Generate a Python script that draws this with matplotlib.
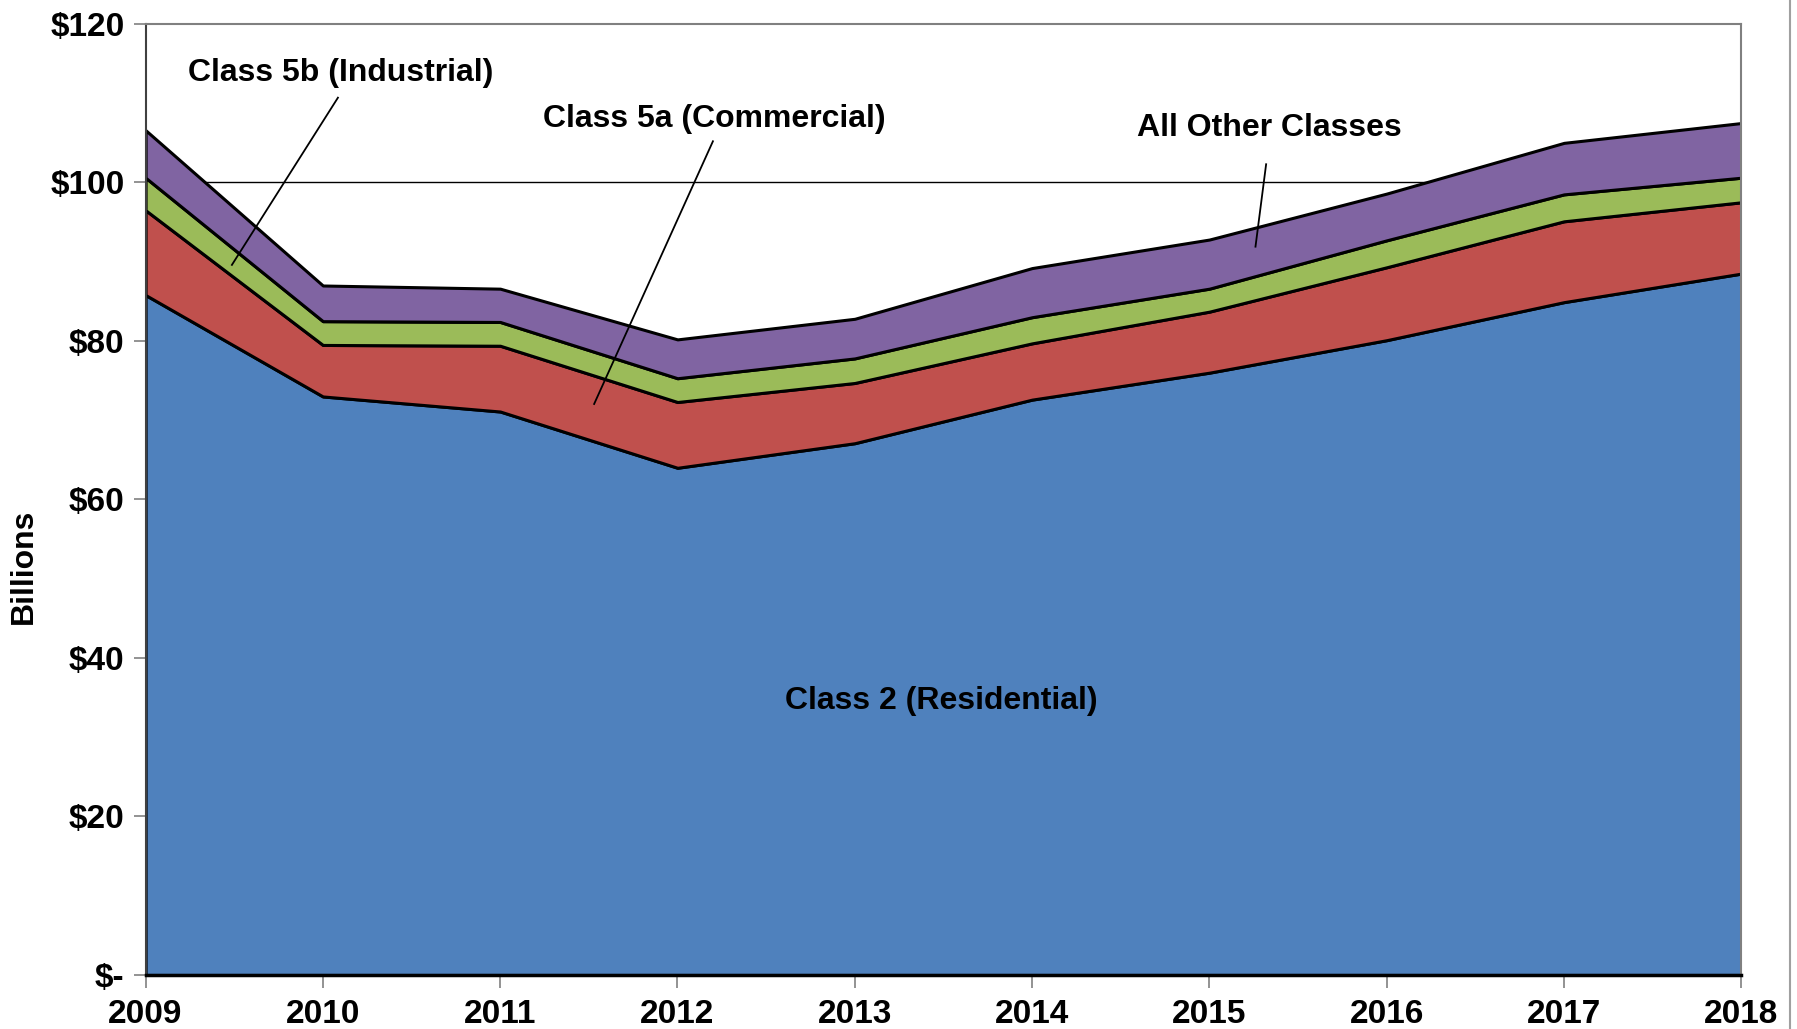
import matplotlib.pyplot as plt
import matplotlib.lines as mlines
import numpy as np

# years on the x axis
years = [2009, 2010, 2011, 2012, 2013, 2014, 2015, 2016, 2017, 2018]

# in billions of dollars (layer thickness)
residential = [85.8, 73.0, 71.1, 64.0, 67.1, 72.6, 76.0, 80.1, 84.9, 88.5]
commercial = [10.7, 6.5, 8.3, 8.3, 7.6, 7.1, 7.7, 9.2, 10.2, 9.0]
industrial = [4.1, 3.0, 3.0, 3.0, 3.1, 3.3, 2.9, 3.4, 3.4, 3.1]
other = [6.0, 4.5, 4.2, 4.9, 5.0, 6.2, 6.2, 5.9, 6.5, 6.9]

colors = ["#4F81BD", "#C0504D", "#9BBB59", "#8064A2"]
yticks = [0, 20, 40, 60, 80, 100, 120]
ytick_labels = ["$-", "$20", "$40", "$60", "$80", "$100", "$120"]

plt.rcParams['font.family'] = ['Liberation Sans', 'DejaVu Sans']
plt.rcParams['font.weight'] = 'bold'
narrow = ['Liberation Sans Narrow', 'Liberation Sans']

fig = plt.figure(figsize=(17.97, 10.29), dpi=100)
ax = fig.add_axes([0.081, 0.0525, 0.888, 0.9242])

# horizontal gridlines sit behind the areas
for v in yticks[1:-1]:
    ax.axhline(v, color="black", linewidth=1.0, zorder=0)

ax.stackplot(years, residential, commercial, industrial, other,
             colors=colors, edgecolor="black", linewidth=2.2, zorder=2)

ax.set_xlim(years[0], years[-1])
ax.set_ylim(0, 120)
ax.set_xticks(years)
ax.set_xticklabels([str(y) for y in years], fontsize=24, fontweight='bold', family=narrow)
ax.set_yticks(yticks)
ax.set_yticklabels(ytick_labels, fontsize=24, fontweight='bold', family=narrow)
ax.tick_params(axis='both', direction='out', length=9, width=1.2, color="#808080", pad=6)
ax.tick_params(axis='x', pad=8)

ax.set_ylabel("Billions", fontsize=23, fontweight='bold')
ax.yaxis.set_label_coords(-0.067, 0.43)

for side in ["top", "right"]:
    ax.spines[side].set_color("#808080")
    ax.spines[side].set_linewidth(1.5)
ax.spines["left"].set_color("#404040")
ax.spines["left"].set_linewidth(1.5)
ax.spines["bottom"].set_color("black")
ax.spines["bottom"].set_linewidth(2.5)
for s in ax.spines.values():
    s.set_zorder(5)

# callout labels with leader lines
ann_style = dict(fontsize=23, fontweight='bold', ha='center', va='center', zorder=6)
ax.text(2010.10, 113.8, "Class 5b (Industrial)", **ann_style)
ax.plot([2010.085, 2009.487], [110.7, 89.6], color="black", linewidth=1.3, zorder=6)
ax.text(2012.21, 108.0, "Class 5a (Commercial)", **ann_style)
ax.plot([2012.20, 2011.53], [105.2, 72.05], color="black", linewidth=1.3, zorder=6)
ax.text(2015.34, 106.9, "All Other Classes", **ann_style)
ax.plot([2015.32, 2015.26], [102.3, 91.9], color="black", linewidth=1.3, zorder=6)
ax.text(2013.49, 34.6, "Class 2 (Residential)", **ann_style)

# outer chart border on the right edge
fig.add_artist(mlines.Line2D([0.996, 0.996], [0.0, 1.0], color="#A0A0A0", linewidth=1.5))

fig.savefig("out.png", dpi=100)
